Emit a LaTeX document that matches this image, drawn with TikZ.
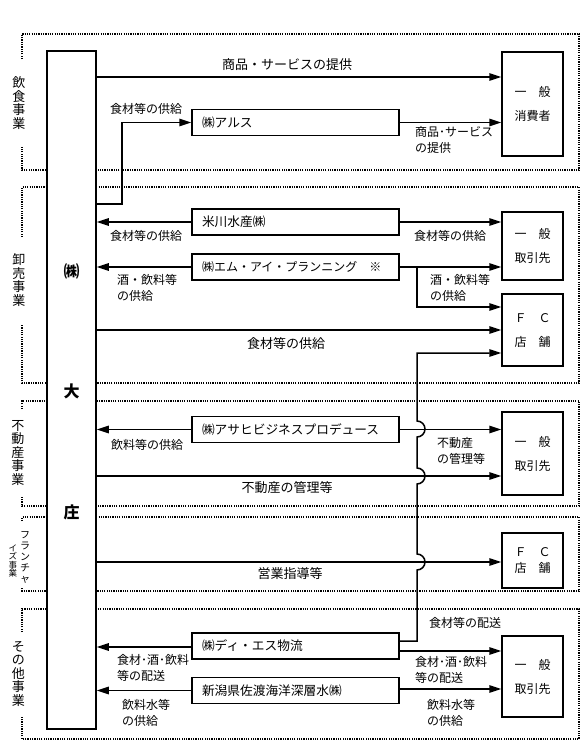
\documentclass[tikz,border=0pt]{standalone}
\usepackage{fontspec}
\setmainfont{Noto Sans CJK JP}
\usetikzlibrary{arrows.meta}
\begin{document}
\begin{tikzpicture}[x=1pt,y=-1pt,
  box/.style={draw, line width=1.5pt, fill=white, inner sep=0pt},
  comp/.style={box, minimum height=26pt, text width=187pt, inner xsep=10pt, align=left, font=\fontsize{12.7}{15}\selectfont},
  dest/.style={box, minimum width=61pt, minimum height=#1, align=center, font=\fontsize{12}{24}\selectfont},
  conn/.style={line width=1.5pt},
  arr/.style={conn, -{Triangle[length=12pt,width=7.5pt]}},
  sec/.style={line width=1.2pt, dash pattern=on 1.2pt off 1.1pt},
  lab/.style={font=\fontsize{12}{16}\selectfont, inner sep=0pt, align=left},
  big/.style={font=\fontsize{13}{15}\selectfont, inner sep=0pt},
  seclab/.style={font=\fontsize{13}{13.5}\selectfont, align=center, inner sep=0pt},
  main/.style={font=\fontsize{16}{16}\selectfont\bfseries, inner sep=0pt}
]
\useasboundingbox (0,0) rectangle (583,744);
\fill[white] (0,0) rectangle (583,744);

% dotted sections
\draw[sec] (22,59) -- (22,34) -- (579,34) -- (579,170) -- (22,170) -- (22,147);
\draw[sec] (22,237) -- (22,187) -- (579,187) -- (579,383) -- (22,383) -- (22,325);
\draw[sec] (22,409) -- (22,401) -- (579,401) -- (579,506) -- (22,506) -- (22,497);
\draw[sec] (22,521) -- (22,517) -- (579,517) -- (579,591) -- (22,591) -- (22,588);
\draw[sec] (22,632) -- (22,609) -- (579,609) -- (579,739) -- (22,739) -- (22,717);

% section labels
\node[seclab] (s1) at (19,103) {飲\\食\\事\\業};
\node[seclab] (s2) at (19,280) {卸\\売\\事\\業};
\node[seclab] (s3) at (18,453) {不\\動\\産\\事\\業};
\node[font=\fontsize{10}{11}\selectfont, align=center, inner sep=0pt] (s4a) at (25,557) {フ\\ラ\\ン\\チ\\ャ};
\node[font=\fontsize{8.5}{8.5}\selectfont, align=center, inner sep=0pt] (s4b) at (13,561) {イ\\ズ\\事\\業};
\node[seclab] (s5) at (18.5,674) {そ\\の\\他\\事\\業};

% main box
\node[box, minimum width=49pt, minimum height=678pt] (daisho) at (71.5,390) {};
\node[main] (m1) at (71.5,271) {㈱};
\node[main] (m2) at (71.5,391) {大};
\node[main] (m3) at (71.5,512) {庄};

% company boxes
\node[comp] (arus) at (295.5,122.5) {㈱アルス};
\node[comp] (yone) at (295.5,222) {米川水産㈱};
\node[comp, font=\fontsize{12}{15}\selectfont] (mip) at (295.5,267) {㈱エム・アイ・プランニング　※};
\node[comp] (asahi) at (295.5,429.5) {㈱アサヒビジネスプロデュース};
\node[comp] (ds) at (295.5,646) {㈱ディ・エス物流};
\node[comp] (niigata) at (295.5,690.5) {新潟県佐渡海洋深層水㈱};

% destination boxes
\node[dest=104pt] (shohi) at (532.5,104) {一　般\\消費者};
\node[dest=68pt] (tori1) at (532.5,246) {一　般\\取引先};
\node[dest=72pt] (fc1) at (532.5,330) {Ｆ　Ｃ\\店　舗};
\node[dest=83pt] (tori2) at (532.5,453.5) {一　般\\取引先};
\node[dest=55pt, font=\fontsize{12}{16}\selectfont] (fc2) at (532.5,560.5) {Ｆ　Ｃ\\店　舗};
\node[dest=81pt] (tori3) at (532.5,676.5) {一　般\\取引先};

% connectors
\draw[arr] (daisho.east |- 0,77) -- (shohi.west |- 0,77);
\draw[arr] (daisho.east |- 0,204) -- (122,204) |- (arus.west);
\draw[arr] (arus.east) -- (shohi.west |- arus.east);

\draw[arr] (yone.west) -- (daisho.east |- yone.west);
\draw[arr] (yone.east) -- (tori1.west |- yone.east);
\draw[arr] (mip.west) -- (daisho.east |- mip.west);
\draw[arr] (mip.east) -- (tori1.west |- mip.east);
\draw[arr] (417,267) |- (fc1.west |- 0,307);
\draw[arr] (daisho.east |- 0,330) -- (fc1.west |- 0,330);

\draw[arr] (asahi.west) -- (daisho.east |- asahi.west);
\draw[arr] (asahi.east) -- (tori2.west |- asahi.east);
\draw[arr] (daisho.east |- 0,476) -- (tori2.west |- 0,476);

\draw[arr] (daisho.east |- 0,562) -- (fc2.west |- 0,562);

\draw[arr] (ds.west |- 0,647) -- (daisho.east |- 0,647);
\draw[arr] (ds.east |- 0,651) -- (tori3.west |- 0,651);
\draw[arr] (niigata.west) -- (daisho.east |- niigata.west);
\draw[arr] (niigata.east |- 0,689) -- (tori3.west |- 0,689);

\draw[arr] (ds.east |- 0,641) -- (417,641) -- (417,570)
  arc[start angle=90, end angle=-90, radius=8] -- (417,484)
  arc[start angle=90, end angle=-90, radius=8] -- (417,437)
  arc[start angle=90, end angle=-90, radius=8] -- (417,353)
  -- (fc1.west |- 0,353);

% labels
\node[big] (t1) at (287,65) {商品・サービスの提供};
\node[lab] (t2) at (146,109) {食材等の供給};
\node[lab, anchor=west] (t3) at (415,140) {商品･サービス\\の提供};
\node[lab] (t4) at (146,236) {食材等の供給};
\node[lab] (t5) at (450,236) {食材等の供給};
\node[lab, anchor=west] (t6) at (117,288) {酒・飲料等\\の供給};
\node[lab, anchor=west] (t7) at (430,288) {酒・飲料等\\の供給};
\node[big] (t8) at (286,344) {食材等の供給};
\node[lab] (t9) at (147,445) {飲料等の供給};
\node[lab, anchor=west] (t10) at (437,451) {不動産\\の管理等};
\node[big] (t11) at (287,488) {不動産の管理等};
\node[big] (t12) at (290,574) {営業指導等};
\node[lab] (t13) at (465,623) {食材等の配送};
\node[lab, anchor=west] (t14) at (117,668) {食材･酒･飲料\\等の配送};
\node[lab, anchor=west] (t15) at (415,670) {食材･酒･飲料\\等の配送};
\node[lab, anchor=west] (t16) at (122,713) {飲料水等\\の供給};
\node[lab, anchor=west] (t17) at (427,713) {飲料水等\\の供給};
\end{tikzpicture}
\end{document}
